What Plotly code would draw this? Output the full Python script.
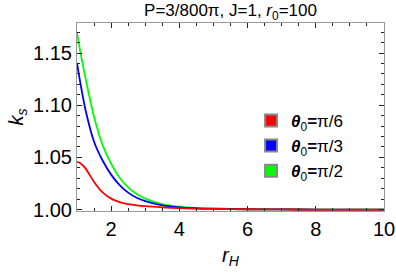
import plotly.graph_objects as go

r_grid = [1.0, 1.1, 1.25, 1.5, 1.75, 2.0, 2.25, 2.5, 2.75, 3.0, 3.5, 4.0, 4.5, 5.0, 6.0, 7.0, 8.0, 9.0, 10.0]

ks_pi6 = [1.0458, 1.0445, 1.0395, 1.0265, 1.0165, 1.0105, 1.0072, 1.0053, 1.0041, 1.0032, 1.0021,
          1.0013, 1.0009, 1.0006, 1.0003, 1.0001, 1.0000, 1.0000, 1.0000]
ks_pi3 = [1.1407, 1.1210, 1.0955, 1.0650, 1.0470, 1.0335, 1.0235, 1.0162, 1.0113, 1.0080, 1.0040,
          1.0020, 1.0012, 1.0008, 1.0003, 1.0001, 1.0000, 1.0000, 1.0000]
ks_pi2 = [1.1695, 1.1510, 1.1260, 1.0890, 1.0620, 1.0440, 1.0305, 1.0212, 1.0148, 1.0104, 1.0052,
          1.0027, 1.0015, 1.0009, 1.0003, 1.0001, 1.0000, 1.0000, 1.0000]

series = [
    ("π/2", ks_pi2, "#00FF00"),
    ("π/3", ks_pi3, "#0000FF"),
    ("π/6", ks_pi6, "#FF0000"),
]
legend_order = ["π/6", "π/3", "π/2"]

x_ticks = [2, 4, 6, 8, 10]
x_labels = ["2", "4", "6", "8", "10"]
y_ticks = [1.00, 1.05, 1.10, 1.15]

FONT = "Liberation Sans, Arial, sans-serif"

fig = go.Figure()
for name, vals, col in series:
    fig.add_trace(go.Scatter(x=r_grid, y=vals, mode="lines",
                             line=dict(color=col, width=1.8, shape="spline", smoothing=0.8),
                             showlegend=False, hoverinfo="skip"))

for i, name in enumerate(legend_order):
    col = [c for n, v, c in series if n == name][0]
    fig.add_trace(go.Scatter(x=[None], y=[None], mode="markers",
                             marker=dict(symbol="square", size=9, color=col, line=dict(color="#888888", width=1)),
                             name="<b><i>θ</i></b><sub>0</sub><b>=</b>" + name,
                             legendgroup="g%d" % i, legendrank=i + 1))

axis_common = dict(showline=True, linecolor="#999999", linewidth=1, mirror="ticks", ticks="inside",
                   tickcolor="#222222", ticklen=5, tickwidth=1, showgrid=False, zeroline=False,
                   automargin=False, ticklabeloverflow="allow",
                   tickfont=dict(family=FONT, size=20, color="#000000"))

fig.update_xaxes(range=[1, 10], tickvals=x_ticks, ticktext=x_labels,
                 minor=dict(dtick=0.5, tick0=0, ticks="inside", ticklen=3, tickcolor="#222222"),
                 title=dict(text="<i>r</i><sub><i>H</i></sub>", font=dict(family=FONT, size=20, color="#000"), standoff=8),
                 **axis_common)
fig.update_yaxes(range=[0.9986, 1.1789], tickvals=y_ticks, ticktext=["%.2f" % v for v in y_ticks],
                 minor=dict(dtick=0.01, tick0=0, ticks="inside", ticklen=3, tickcolor="#222222"),
                 title=dict(text="<i>k</i><sub><i>s</i></sub>", font=dict(family=FONT, size=20, color="#000"), standoff=4),
                 **axis_common)

fig.update_layout(
    width=396, height=272,
    margin=dict(l=77, r=12, t=23, b=61),
    paper_bgcolor="white", plot_bgcolor="white",
    hovermode=False,
    title=dict(text="P=3/800π, J=1, <i>r</i><sub>0</sub>=100", xref="paper", x=0.5, xanchor="center",
               yref="container", y=0.962, yanchor="middle",
               font=dict(family=FONT, size=17, color="#000")),
    legend=dict(x=0.567, y=0.346, xanchor="left", yanchor="middle", bgcolor="rgba(0,0,0,0)",
                font=dict(family=FONT, size=17, color="#000"), tracegroupgap=0,
                itemsizing="constant"),
)

fig.write_html("out.html", config={"displayModeBar": False},
               post_script="document.body.style.margin='0px';")
